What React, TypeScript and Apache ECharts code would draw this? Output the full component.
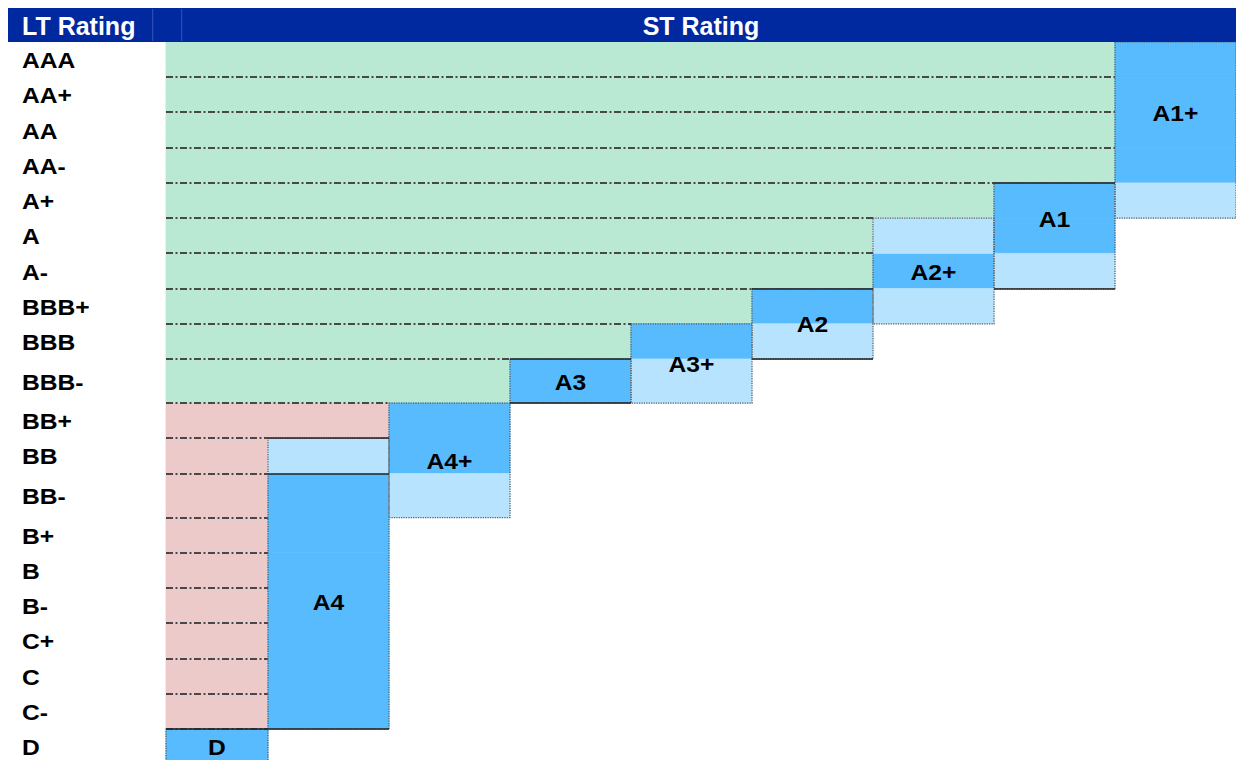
import React, { useEffect, useRef } from "react";
import * as echarts from "echarts";

// ---------------- data ----------------
const ltRatings = [
  "AAA", "AA+", "AA", "AA-", "A+", "A", "A-", "BBB+", "BBB", "BBB-",
  "BB+", "BB", "BB-", "B+", "B", "B-", "C+", "C", "C-", "D",
];
const stRatings = ["D", "A4", "A4+", "A3", "A3+", "A2", "A2+", "A1", "A1+"];
// LT ratings that map primarily (dark) to each ST rating
const stPrimary: string[][] = [
  ["D"],
  ["BB-", "B+", "B", "B-", "C+", "C", "C-"],
  ["BB+", "BB"],
  ["BBB-"],
  ["BBB"],
  ["BBB+"],
  ["A-"],
  ["A+", "A"],
  ["AAA", "AA+", "AA", "AA-"],
];
// LT ratings that map secondarily (light) to each ST rating
const stSecondary: string[][] = [
  [],
  ["BB"],
  ["BB-"],
  [],
  ["BBB-"],
  ["BBB"],
  ["A", "BBB+"],
  ["A-"],
  ["A+"],
];
// LT rows over which each ST label is centred
const stLabelSpan: string[][] = [
  ["D", "D"],
  ["BB-", "C-"],
  ["BB+", "BB-"],
  ["BBB-", "BBB-"],
  ["BBB", "BBB-"],
  ["BBB+", "BBB"],
  ["A-", "A-"],
  ["A+", "A"],
  ["AAA", "AA-"],
];
const lowestInvestmentGrade = "BBB-";
const headerTitles = ["LT Rating", "ST Rating"];

// ---------------- layout / style ----------------
const TALL_ROWS = ["BBB-", "BB-"];
const TALL_ROW_SCALE = 1.25;
const NARROW_COLS = ["D"];
const NARROW_COL_SCALE = 0.843;

const W = 1236;
const H = 760;
const MARGIN = 8;
const GRID_LEFT = 166;
const GRID_TOP = 42;
const ROW_UNIT_PX = 35.23;
const HEADER_H = 34;
const ROW_LABEL_X = 22;
const HEADER_RULES = [152.7, 181.7];

const C = {
  header: "#0029A0",
  headerRule: "#3454B4",
  green: "#B9E9D2",
  pink: "#ECCACA",
  dark: "#57BBFE",
  light: "#B7E3FE",
  dash: "#484848",
  dotted: "#5A5A5A",
  solid: "#222222",
  text: "#000000",
};
const FONT_FAMILY = "'Liberation Sans', Arial, Helvetica, sans-serif";
const LABEL_FONT = `bold 22px ${FONT_FAMILY}`;
const LABEL_STRETCH = 1.12;
const HEADER_FONT = `bold 25px ${FONT_FAMILY}`;

export default function App() {
  const ref = useRef<HTMLDivElement>(null);

  useEffect(() => {
    if (!ref.current) return;
    const chart = echarts.init(ref.current, undefined, { renderer: "svg" });

    const rowW = ltRatings.map((r) => (TALL_ROWS.includes(r) ? TALL_ROW_SCALE : 1));
    const colW = stRatings.map((s) => (NARROW_COLS.includes(s) ? NARROW_COL_SCALE : 1));
    const rowEdges = [0];
    rowW.forEach((w, i) => rowEdges.push(rowEdges[i] + w));
    const colEdges = [0];
    colW.forEach((w, i) => colEdges.push(colEdges[i] + w));
    const totalRows = rowEdges[rowEdges.length - 1];
    const totalCols = colEdges[colEdges.length - 1];
    const gridW = W - GRID_LEFT;
    const gridH = totalRows * ROW_UNIT_PX;
    const igIndex = ltRatings.indexOf(lowestInvestmentGrade);

    // leftmost ST column each LT rating maps to
    const firstCol = ltRatings.map((lt) => {
      for (let c = 0; c < stRatings.length; c++) {
        if (stPrimary[c].includes(lt) || stSecondary[c].includes(lt)) return c;
      }
      return stRatings.length;
    });
    const zoneEnd = firstCol.map((c) => colEdges[c]);

    const zoneData: number[][] = [];
    ltRatings.forEach((_, r) => {
      if (zoneEnd[r] > 0)
        zoneData.push([0, rowEdges[r], zoneEnd[r], rowEdges[r + 1], r <= igIndex ? 0 : 1]);
    });

    const dashData: number[][] = [];
    for (let r = 1; r < ltRatings.length; r++) {
      const a = zoneEnd[r - 1];
      const b = zoneEnd[r];
      if (a <= 0 && b <= 0) continue;
      const span = a > 0 && b > 0 ? Math.min(a, b) : Math.max(a, b);
      dashData.push([0, rowEdges[r], span]);
    }

    const cellData: number[][] = [];
    const boxData: number[][] = [];
    const solidData: number[][] = [];
    const stLabelData: number[][] = [];
    stRatings.forEach((st, c) => {
      const rows: number[] = [];
      const pRows = stPrimary[c].map((lt) => ltRatings.indexOf(lt));
      const sRows = stSecondary[c].map((lt) => ltRatings.indexOf(lt));
      pRows.forEach((r) => {
        rows.push(r);
        cellData.push([colEdges[c], rowEdges[r], colEdges[c + 1], rowEdges[r + 1], 2]);
      });
      sRows.forEach((r) => {
        rows.push(r);
        cellData.push([colEdges[c], rowEdges[r], colEdges[c + 1], rowEdges[r + 1], 3]);
      });
      const top = Math.min(...rows);
      const bot = Math.max(...rows);
      boxData.push([colEdges[c], rowEdges[top], colEdges[c + 1], rowEdges[bot + 1]]);
      if (!st.endsWith("+")) {
        solidData.push([colEdges[c], rowEdges[top], colEdges[c + 1]]);
        solidData.push([colEdges[c], rowEdges[bot + 1], colEdges[c + 1]]);
        const pTop = Math.min(...pRows);
        if (pTop > top) solidData.push([colEdges[c], rowEdges[pTop], colEdges[c + 1]]);
      }
      const s0 = ltRatings.indexOf(stLabelSpan[c][0]);
      const s1 = ltRatings.indexOf(stLabelSpan[c][1]);
      stLabelData.push([(colEdges[c] + colEdges[c + 1]) / 2, (rowEdges[s0] + rowEdges[s1 + 1]) / 2, c]);
    });

    const ltLabelData = ltRatings.map((_, r) => [0, (rowEdges[r] + rowEdges[r + 1]) / 2, r]);

    const rectItem = (api: any, fill: string) => {
      const p0 = api.coord([api.value(0), api.value(1)]);
      const p1 = api.coord([api.value(2), api.value(3)]);
      return {
        type: "rect",
        shape: { x: p0[0], y: p0[1], width: p1[0] - p0[0], height: p1[1] - p0[1] },
        style: { fill, stroke: fill, lineWidth: 0.8 },
      };
    };

    const hLine = (api: any, style: any) => {
      const p0 = api.coord([api.value(0), api.value(1)]);
      const p1 = api.coord([api.value(2), api.value(1)]);
      const y = Math.round(p0[1]);
      return {
        type: "line",
        shape: { x1: p0[0], y1: y, x2: p1[0], y2: y },
        style,
      };
    };

    const option: any = {
      animation: false,
      grid: {
        left: GRID_LEFT,
        top: GRID_TOP,
        width: gridW,
        height: gridH,
        outerBoundsMode: "none",
        containLabel: false,
      },
      xAxis: { type: "value", min: 0, max: totalCols, show: false },
      yAxis: { type: "value", min: 0, max: totalRows, inverse: true, show: false },
      graphic: [
        {
          type: "rect",
          shape: { x: MARGIN, y: MARGIN, width: W - MARGIN, height: HEADER_H },
          style: { fill: C.header },
          z: 10,
        },
        ...HEADER_RULES.map((x) => ({
          type: "line",
          shape: { x1: x, y1: MARGIN + 1, x2: x, y2: MARGIN + HEADER_H - 1 },
          style: { stroke: C.headerRule, lineWidth: 1 },
          z: 11,
        })),
        {
          type: "text",
          x: ROW_LABEL_X,
          y: MARGIN + HEADER_H / 2 + 1,
          style: {
            text: headerTitles[0],
            fill: "#FFFFFF",
            font: HEADER_FONT,
            align: "left",
            verticalAlign: "middle",
          },
          z: 12,
        },
        {
          type: "text",
          x: GRID_LEFT + gridW / 2,
          y: MARGIN + HEADER_H / 2 + 1,
          style: {
            text: headerTitles[1],
            fill: "#FFFFFF",
            font: HEADER_FONT,
            align: "center",
            verticalAlign: "middle",
          },
          z: 12,
        },
      ],
      series: [
        {
          type: "custom",
          name: "zones",
          data: zoneData,
          clip: false,
          z: 1,
          renderItem: (_p: any, api: any) => rectItem(api, api.value(4) === 0 ? C.green : C.pink),
        },
        {
          type: "custom",
          name: "cells",
          data: cellData,
          clip: false,
          z: 2,
          renderItem: (_p: any, api: any) => rectItem(api, api.value(4) === 2 ? C.dark : C.light),
        },
        {
          type: "custom",
          name: "dashes",
          data: dashData,
          clip: false,
          z: 3,
          renderItem: (_p: any, api: any) =>
            hLine(api, { stroke: C.dash, lineWidth: 2, lineDash: [7, 2.5, 2, 2.5] }),
        },
        {
          type: "custom",
          name: "boxes",
          data: boxData,
          clip: false,
          z: 4,
          renderItem: (_p: any, api: any) => {
            const p0 = api.coord([api.value(0), api.value(1)]);
            const p1 = api.coord([api.value(2), api.value(3)]);
            return {
              type: "rect",
              shape: { x: p0[0], y: p0[1], width: p1[0] - p0[0], height: p1[1] - p0[1] },
              style: { fill: "none", stroke: C.dotted, lineWidth: 1.2, lineDash: [1.2, 1.2] },
            };
          },
        },
        {
          type: "custom",
          name: "solidEdges",
          data: solidData,
          clip: false,
          z: 5,
          renderItem: (_p: any, api: any) => hLine(api, { stroke: C.solid, lineWidth: 1.6 }),
        },
        {
          type: "custom",
          name: "stLabels",
          data: stLabelData,
          clip: false,
          z: 6,
          renderItem: (_p: any, api: any) => {
            const p = api.coord([api.value(0), api.value(1)]);
            return {
              type: "text",
              x: p[0],
              y: p[1] + 1,
              scaleX: LABEL_STRETCH,
              style: {
                text: stRatings[api.value(2)],
                fill: C.text,
                font: LABEL_FONT,
                align: "center",
                verticalAlign: "middle",
              },
            };
          },
        },
        {
          type: "custom",
          name: "ltLabels",
          data: ltLabelData,
          clip: false,
          z: 6,
          renderItem: (_p: any, api: any) => {
            const p = api.coord([api.value(0), api.value(1)]);
            return {
              type: "text",
              x: ROW_LABEL_X,
              y: p[1] + 1,
              scaleX: LABEL_STRETCH,
              style: {
                text: ltRatings[api.value(2)],
                fill: C.text,
                font: LABEL_FONT,
                align: "left",
                verticalAlign: "middle",
              },
            };
          },
        },
      ],
    };

    chart.setOption(option);
    return () => chart.dispose();
  }, []);

  return (
    <div
      style={{ position: "fixed", left: 0, top: 0, width: W, height: H, background: "#ffffff", overflow: "hidden" }}
    >
      <div ref={ref} style={{ width: W, height: H }} />
    </div>
  );
}
